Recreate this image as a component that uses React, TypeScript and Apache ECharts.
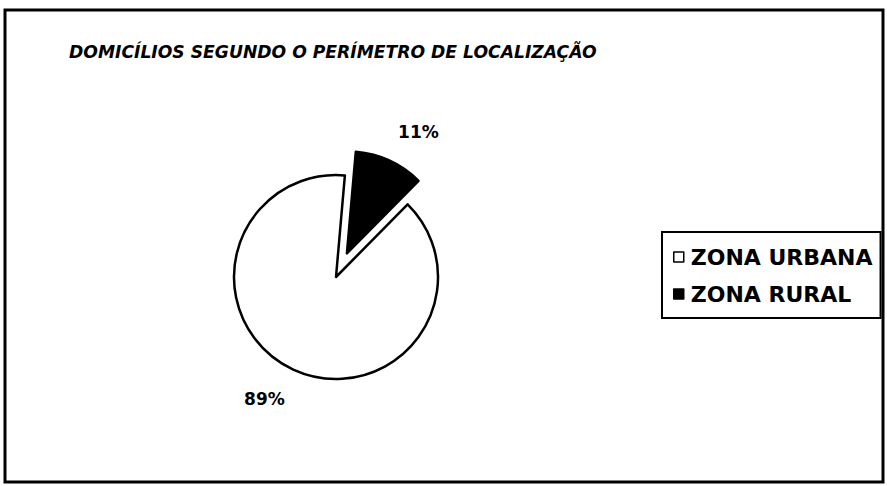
import React, { useEffect, useRef } from "react";
import * as echarts from "echarts";

const title = "DOMICÍLIOS SEGUNDO O PERÍMETRO DE LOCALIZAÇÃO";
const categories = ["ZONA RURAL", "ZONA URBANA"];
const values = [11, 89];
const colors = ["#000000", "#ffffff"];
const legendOrder = ["ZONA URBANA", "ZONA RURAL"];

export default function App() {
  const ref = useRef<HTMLDivElement>(null);
  useEffect(() => {
    const chart = echarts.init(ref.current!, undefined, { renderer: "svg" });
    chart.setOption({
      animation: false,
      backgroundColor: "#ffffff",
      title: {
        text: title,
        left: 64,
        top: 38,
        textStyle: {
          fontFamily: "DejaVu Sans",
          fontStyle: "italic",
          fontWeight: "bold",
          fontSize: 17.2,
          color: "#000",
        },
      },
      legend: {
        orient: "vertical",
        left: 662,
        top: 232,
        data: legendOrder,
        icon: "rect",
        itemWidth: 10,
        itemHeight: 10,
        itemGap: 15,
        padding: [14, 8, 13, 11],
        borderColor: "#000",
        borderWidth: 2,
        itemStyle: { borderColor: "#000", borderWidth: 1.5 },
        textStyle: {
          fontFamily: "DejaVu Sans",
          fontWeight: "bold",
          fontSize: 22,
          color: "#000",
          padding: [0, 0, 0, 2],
        },
      },
      graphic: [
        {
          type: "rect",
          shape: { x: 5, y: 10, width: 878, height: 472 },
          style: { fill: "none", stroke: "#000", lineWidth: 3 },
          silent: true,
        },
      ],
      series: [
        {
          type: "pie",
          center: [336, 277],
          radius: 102,
          startAngle: 85,
          clockwise: true,
          selectedMode: "single",
          selectedOffset: 26,
          avoidLabelOverlap: false,
          label: {
            show: true,
            position: "outside",
            formatter: "{d}%",
            fontFamily: "DejaVu Sans",
            fontWeight: "bold",
            fontSize: 17,
            color: "#000",
          },
          labelLine: { show: false, length: 32, length2: -10 },
          itemStyle: { borderColor: "#000", borderWidth: 2.5 },
          emphasis: { disabled: true },
          data: categories.map((c, i) => ({
            name: c,
            value: values[i],
            selected: i === 0,
            itemStyle: { color: colors[i] },
          })),
        },
      ],
    });
    return () => chart.dispose();
  }, []);
  return (
    <div
      ref={ref}
      style={{ position: "fixed", left: 0, top: 0, width: 887, height: 486 }}
    />
  );
}
